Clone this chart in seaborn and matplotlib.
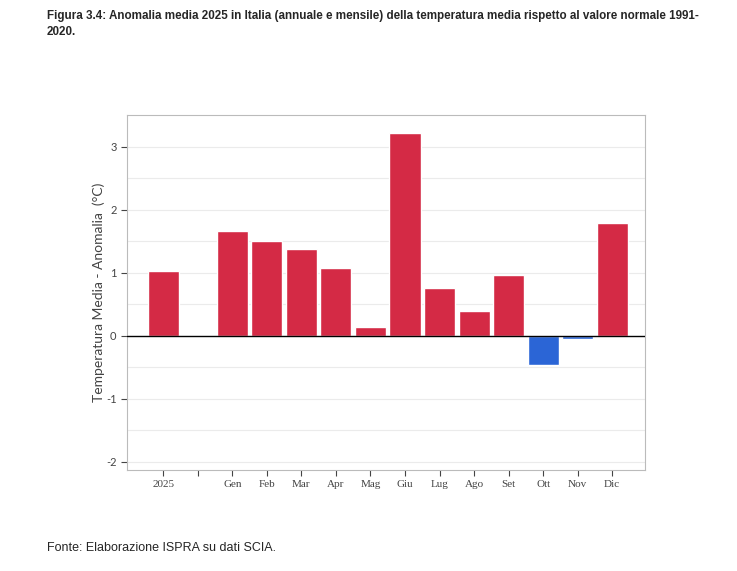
import matplotlib
matplotlib.use("Agg")
import matplotlib.pyplot as plt
import seaborn as sns
import pandas as pd

categories = ["2025", "", "Gen", "Feb", "Mar", "Apr", "Mag", "Giu", "Lug", "Ago", "Set", "Ott", "Nov", "Dic"]
values = [1.02, 0.0, 1.66, 1.50, 1.37, 1.08, 0.13, 3.22, 0.75, 0.39, 0.97, -0.46, -0.05, 1.79]

df = pd.DataFrame({"cat": categories, "val": values})
df["cat"] = pd.Categorical(df["cat"], categories=categories, ordered=True)
red, blue = "#D42A45", "#2B65D6"
palette = [red if v >= 0 else blue for v in values]

sns.set_style("white")
plt.rcParams["font.family"] = ["Lato", "DejaVu Sans"]
fig = plt.figure(figsize=(7.37, 5.71), dpi=100)
ax = fig.add_axes([127/737, 1-470/571, (645-127)/737, (470-115)/571])
sns.barplot(data=df, x="cat", y="val", hue="cat", palette=palette, legend=False,
            width=0.9, saturation=1, ax=ax, zorder=3)
ax.set_ylim(-2.13, 3.5)
ax.set_xlim(-1.05, 13.95)
for y in [-2, -1.5, -1, -0.5, 0.5, 1, 1.5, 2, 2.5, 3]:
    ax.axhline(y, color="#ebebeb", lw=0.8, zorder=0)
ax.axhline(0, color="black", lw=1, zorder=4)
ax.set_yticks([-2, -1, 0, 1, 2, 3])
ax.set_yticklabels(["-2", "-1", "0", "1", "2", "3"], fontsize=8, color="#444444")
ax.set_xticks(range(len(categories)))
ax.set_xticklabels(categories, fontsize=8, color="#444444", family="Liberation Serif")
ax.tick_params(axis="x", length=4, pad=3, color="#444444", direction="out", bottom=True)
ax.tick_params(axis="y", length=4, color="#444444", direction="out", left=True)
ax.set_xlabel("")
ax.set_ylabel("Temperatura Media - Anomalia  (°C)", fontsize=10, color="#444444", labelpad=1)
for s in ax.spines.values():
    s.set_color("#bbbbbb")
    s.set_linewidth(0.8)

fig.text(47/737, 1-24/571, "Figura 3.4: Anomalia media 2025 in Italia (annuale e mensile) della temperatura media rispetto al valore normale 1991-\n2020.",
         fontsize=8.4, fontweight="bold", family="Liberation Sans", va="center", linespacing=1.35)
fig.text(47/737, 1-548/571, "Fonte: Elaborazione ISPRA su dati SCIA.", fontsize=9, family="Liberation Sans", va="center")
fig.savefig("out.png", dpi=100)
